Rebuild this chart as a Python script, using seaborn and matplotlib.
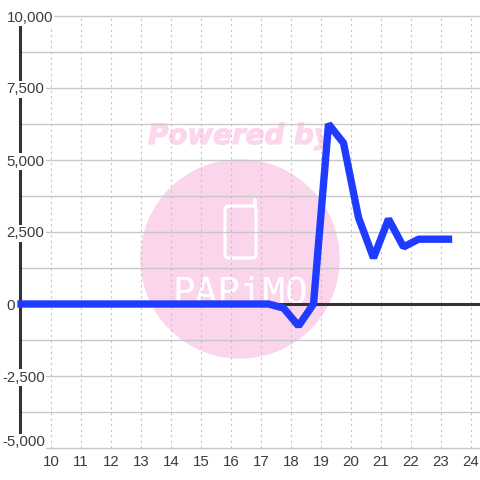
import matplotlib
matplotlib.use("Agg")
import matplotlib.pyplot as plt
import matplotlib.patheffects as pe
import seaborn as sns
from matplotlib.patches import Circle, FancyBboxPatch

sns.set_style("white")
plt.rcParams['font.family'] = ['Liberation Sans', 'DejaVu Sans']

hours = [9, 10, 11, 12, 13, 14, 15, 16, 17, 17.25, 17.75, 18.25, 18.75, 19.25, 19.75, 20.25, 20.75, 21.25, 21.75, 22.25, 22.75, 23.25]
values = [0, 0, 0, 0, 0, 0, 0, 0, 0, 0, -140, -760, 0, 6250, 5590, 3000, 1600, 2950, 1980, 2250, 2250, 2250]
y_ticks = [-5000, -2500, 0, 2500, 5000, 7500, 10000]
y_labels = ['-5,000', '-2,500', '0', '2,500', '5,000', '7,500', '10,000']
x_ticks = list(range(10, 25))
y_grid = [-5000, -3750, -2500, -1250, 1250, 2500, 3750, 5000, 6250, 7500, 8750, 10000]

fig = plt.figure(figsize=(4.8, 4.8), dpi=100)
ax = fig.add_axes([0, 0, 1, 1])
# axes fill the figure, limits picked so data lands on the right pixels
ax.set_xlim(10 - 51 / 30, 10 + 429 / 30)
ax.set_ylim(-5000 - 32 / 72 * 2500, 10000 + 16 / 72 * 2500)

# watermark, placed in figure pixels
ax.add_artist(Circle((240, 480 - 259), 99, color='#fbd5ec', zorder=0, transform=None))
ax.text(148, 480 - 144, 'Powered by', transform=None, color='#fcd6ed', fontsize=20, fontweight='bold',
        fontstyle='italic', family='DejaVu Sans', va='baseline', ha='left', zorder=0.5,
        path_effects=[pe.withStroke(linewidth=0.9, foreground='#fcd6ed')])
ax.add_artist(FancyBboxPatch((225, 480 - 258), 31, 52, boxstyle='round,pad=0,rounding_size=4', fc='none', ec='white',
                             lw=2.2, transform=None, zorder=0.5))
ax.add_artist(plt.Line2D([254.5, 254.5], [480 - 206, 480 - 200], color='white', lw=2.6, transform=None, zorder=0.5))
ax.text(172, 480 - 304, 'PAPiMO', transform=None, color='white', fontsize=27, family='DejaVu Sans Mono',
        va='baseline', ha='left', zorder=0.5)

# grid
for y in y_grid:
    ax.axhline(y, xmin=20 / 480, color='#c8c8c8', lw=1, zorder=1)
for x in x_ticks:
    ax.vlines(x, -5000, 10000, color='#c4c4c4', lw=0.8, linestyles=(0, (2, 3)), zorder=1)

ax.axhline(0, xmin=20 / 480, color='#333333', lw=2.2, zorder=2)
ax.vlines(10 - 30.5 / 30, -5000, 10000, color='#333333', lw=2.2, zorder=2)

sns.lineplot(x=hours, y=values, ax=ax, color='#1f3bff', lw=5.3, zorder=5, errorbar=None, sort=False, legend=False,
             solid_capstyle='projecting', solid_joinstyle='bevel')
ax.axis('off')

for t, lab in zip(y_ticks, y_labels):
    shift = 6 if t == -5000 else -1.5  # bottom label sits above its gridline
    ax.annotate(lab, (0, t), xycoords=('axes pixels', 'data'), xytext=(2 if lab[0] == '-' else 6.5, shift),
                textcoords='offset pixels', fontsize=10.8, color='#3c3c3c', va='center', ha='left',
                bbox=dict(fc='white', ec='none', pad=1), zorder=4)
for t in x_ticks:
    ax.text(t, -5000 - 13.5 / 72 * 2500, str(t), fontsize=10.8, color='#3c3c3c', va='center', ha='center')

fig.savefig('out.png', dpi=100)
